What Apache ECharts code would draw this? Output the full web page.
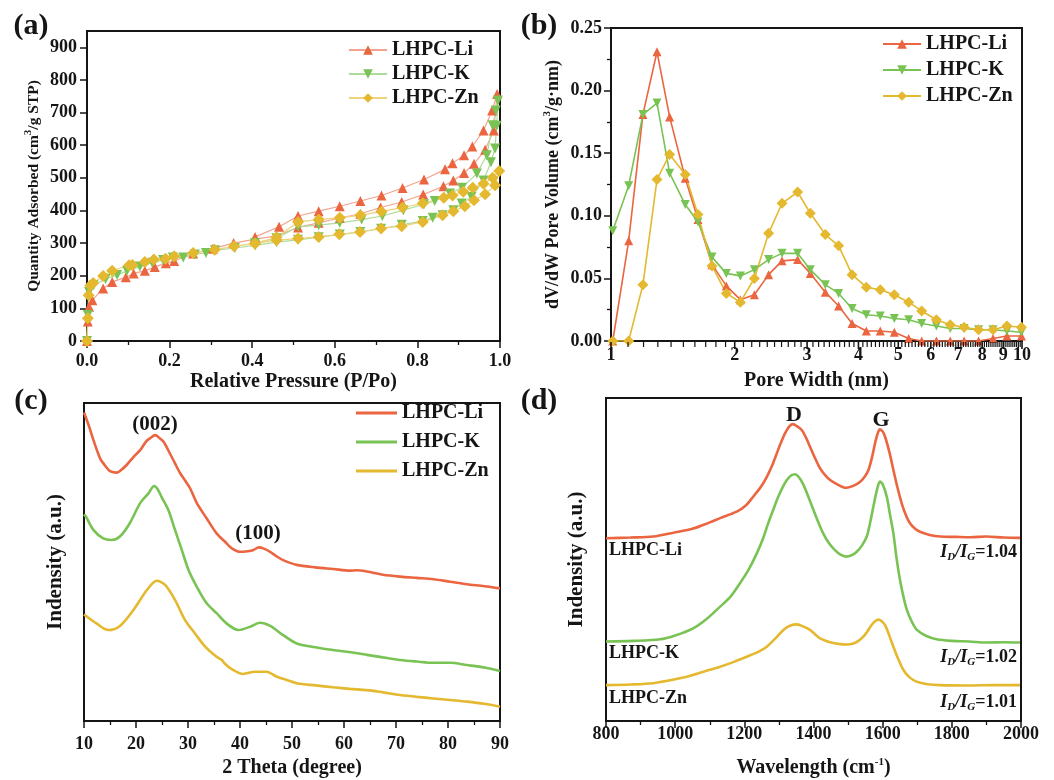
<!DOCTYPE html>
<html>
<head>
<meta charset="utf-8">
<script src="https://cdn.jsdelivr.net/npm/echarts@6/dist/echarts.min.js"></script>
<style>html,body{margin:0;padding:0;background:#fff;}</style>
</head>
<body>
<div id="main" style="width:1054px;height:780px;"></div>
<script type="text/javascript">
// ---- (a) N2 isotherms: adsorption branch then desorption branch
var liAdsP = [0.000, 0.002, 0.005, 0.013, 0.039, 0.061, 0.094, 0.113, 0.140, 0.164, 0.191, 0.211, 0.257, 0.305, 0.355, 0.407, 0.459, 0.511, 0.561, 0.612, 0.662, 0.711, 0.762, 0.814, 0.863, 0.887, 0.913, 0.937, 0.964, 0.985, 0.993];
var liAdsQ = [0, 60, 105, 125, 161, 181, 195, 207, 215, 227, 238, 245, 268, 283, 300, 312, 322, 348, 362, 377, 390, 409, 426, 449, 474, 492, 515, 543, 586, 645, 757];
var liDesP = [0.981, 0.960, 0.933, 0.913, 0.885, 0.867, 0.816, 0.764, 0.713, 0.662, 0.612, 0.561, 0.511, 0.465, 0.407];
var liDesQ = [706, 645, 596, 569, 545, 526, 495, 469, 446, 429, 413, 398, 383, 350, 319];

var kAdsP = [0.000, 0.002, 0.005, 0.016, 0.045, 0.073, 0.097, 0.128, 0.158, 0.184, 0.208, 0.233, 0.261, 0.288, 0.310, 0.358, 0.407, 0.459, 0.511, 0.561, 0.612, 0.662, 0.712, 0.762, 0.813, 0.837, 0.861, 0.887, 0.907, 0.931, 0.960, 0.978, 0.988, 0.992, 0.995];
var kAdsQ = [0, 80, 150, 171, 190, 202, 215, 228, 240, 248, 256, 256, 265, 270, 278, 285, 293, 303, 310, 318, 326, 334, 344, 356, 368, 378, 385, 401, 421, 441, 492, 548, 590, 660, 737];
var kDesP = [0.990, 0.982, 0.968, 0.944, 0.908, 0.879, 0.842, 0.816, 0.766, 0.715, 0.665, 0.612, 0.561, 0.511, 0.459, 0.407];
var kDesQ = [706, 661, 569, 513, 470, 452, 429, 419, 401, 383, 372, 362, 355, 350, 315, 300];

var znAdsP = [0.000, 0.002, 0.004, 0.008, 0.015, 0.039, 0.061, 0.102, 0.110, 0.140, 0.162, 0.190, 0.211, 0.257, 0.309, 0.356, 0.407, 0.459, 0.511, 0.561, 0.611, 0.661, 0.712, 0.762, 0.813, 0.861, 0.887, 0.915, 0.937, 0.964, 0.988, 0.998];
var znAdsQ = [0, 70, 140, 170, 178, 199, 215, 232, 233, 242, 250, 252, 260, 270, 280, 290, 299, 309, 314, 319, 327, 334, 345, 352, 365, 385, 398, 413, 431, 450, 477, 521];
var znDesP = [0.982, 0.960, 0.934, 0.911, 0.885, 0.864, 0.813, 0.764, 0.713, 0.662, 0.612, 0.561, 0.511, 0.459, 0.407];
var znDesQ = [500, 482, 470, 457, 446, 439, 422, 409, 397, 385, 378, 372, 365, 318, 299];

var qTicks = [0, 100, 200, 300, 400, 500, 600, 700, 800, 900];

// ---- (b) pore size distribution
var poreW = [1.01, 1.104, 1.196, 1.294, 1.389, 1.516, 1.628, 1.761, 1.908, 2.064, 2.233, 2.418, 2.607, 2.845, 3.055, 3.322, 3.58, 3.86, 4.18, 4.52, 4.89, 5.30, 5.70, 6.19, 6.69, 7.23, 7.84, 8.50, 9.19, 9.97];
var liPV = [0.0, 0.080, 0.181, 0.231, 0.179, 0.130, 0.097, 0.061, 0.044, 0.033, 0.037, 0.053, 0.064, 0.065, 0.054, 0.039, 0.028, 0.014, 0.008, 0.008, 0.007, 0.002, 0.0, 0.0, 0.0, 0.0, 0.0, 0.002, 0.004, 0.004];
var kPV = [0.088, 0.124, 0.181, 0.190, 0.134, 0.109, 0.095, 0.067, 0.054, 0.052, 0.057, 0.065, 0.070, 0.070, 0.057, 0.045, 0.038, 0.026, 0.021, 0.020, 0.018, 0.017, 0.014, 0.012, 0.010, 0.010, 0.009, 0.009, 0.008, 0.007];
var znPV = [0.0, 0.0, 0.045, 0.129, 0.149, 0.133, 0.101, 0.060, 0.038, 0.031, 0.050, 0.086, 0.110, 0.119, 0.102, 0.085, 0.076, 0.053, 0.043, 0.041, 0.037, 0.031, 0.024, 0.017, 0.013, 0.011, 0.009, 0.009, 0.012, 0.011];
var poreLabels = [1, 2, 3, 4, 5, 6, 7, 8, 9, 10];

// ---- (c) XRD
var liTheta = [10.0, 11.0, 11.8, 13.1, 14.2, 15.0, 16.3, 17.2, 18.2, 19.5, 20.8, 22.0, 22.7, 23.7, 24.5, 25.3, 26.5, 27.5, 28.5, 29.5, 30.4, 31.7, 33.6, 35.5, 37.4, 38.5, 40.0, 41.5, 42.6, 43.6, 44.6, 45.8, 47.0, 48.3, 50.9, 54.5, 57.9, 61.2, 62.5, 64.4, 67.5, 70.8, 74.0, 77.2, 80.4, 83.6, 87.0, 90.0];
var liXrd = [97, 92.5, 88.4, 82.6, 80, 78.6, 78.1, 79, 80.5, 83, 85.2, 88, 88.9, 89.9, 89, 87.8, 84.2, 81, 77.9, 75.5, 73.2, 68.5, 63.7, 59.0, 55.9, 54.2, 53.2, 53.4, 53.8, 54.6, 54.2, 53.2, 51.8, 50.6, 49.1, 48.3, 47.8, 47.3, 47.4, 47.0, 46.0, 45.4, 45.0, 44.6, 43.8, 43.0, 42.4, 41.7];
var kTheta = [10.0, 10.4, 11.8, 13.7, 15.3, 16.9, 18.8, 20.8, 22.4, 23.5, 24.2, 24.9, 26.2, 27.5, 28.8, 30.1, 31.7, 33.6, 35.5, 37.4, 39.7, 41.9, 43.8, 45.8, 48.3, 50.9, 54.5, 57.9, 61.2, 64.4, 67.5, 70.8, 74.0, 77.2, 80.4, 83.6, 87.0, 90.0];
var kXrd = [65, 64.2, 60.1, 57.4, 56.9, 58.0, 62.2, 68.5, 71.6, 73.9, 72.8, 70.5, 66.4, 60.1, 53.8, 47.5, 42.2, 37.0, 33.9, 30.7, 28.6, 29.6, 30.9, 29.9, 27.0, 24.4, 23.2, 22.3, 21.6, 20.8, 20.0, 19.2, 18.7, 18.3, 18.3, 17.6, 16.8, 15.7];
var znTheta = [10.0, 12.4, 14.7, 16.9, 19.5, 22.1, 24.0, 25.6, 27.5, 29.4, 31.3, 33.3, 35.5, 36.5, 37.1, 38.4, 40.6, 42.9, 45.1, 47.1, 49.0, 50.9, 54.5, 57.9, 61.2, 64.4, 67.5, 70.8, 74.0, 77.2, 80.4, 83.6, 87.0, 90.0];
var znXrd = [33.5, 30.7, 28.6, 29.9, 34.9, 41.2, 44.1, 42.8, 38.1, 31.8, 27.6, 23.4, 20.2, 19.2, 18.0, 16.3, 14.8, 15.5, 15.5, 13.9, 12.9, 11.9, 11.2, 10.6, 10.1, 9.7, 9.0, 8.2, 7.6, 7.1, 6.6, 6.1, 5.4, 4.5];

// ---- (d) Raman
var liWave = [800, 870, 937, 995, 1052, 1100, 1130, 1178, 1205, 1226, 1248, 1265, 1280, 1294, 1306, 1318, 1330, 1340, 1352, 1366, 1378, 1390, 1404, 1419, 1433, 1448, 1470, 1494, 1515, 1535, 1549, 1559, 1570, 1578, 1585, 1592, 1600, 1607, 1620, 1631, 1643, 1655, 1667, 1679, 1693, 1708, 1736, 1766, 1810, 1853, 1900, 1950, 1997];
var liRaman = [56.6, 56.8, 57.1, 58.3, 59.6, 61.5, 62.8, 64.8, 66.8, 69.5, 72.5, 75.6, 79, 82.9, 86.2, 89.1, 91.2, 91.9, 91.3, 90.1, 87.8, 84.9, 81.5, 78.2, 76.2, 74.6, 73.2, 72.2, 72.8, 74.1, 75.8, 77.7, 82, 86.0, 88.8, 90.3, 89.6, 88.0, 83, 77.7, 72.2, 67.4, 63.8, 61.2, 59.6, 58.6, 57.6, 57.1, 57.0, 56.9, 57.1, 56.8, 56.7];
var kWave = [800, 880, 956, 1000, 1052, 1090, 1130, 1160, 1187, 1212, 1236, 1253, 1269, 1284, 1298, 1311, 1323, 1335, 1347, 1359, 1371, 1386, 1400, 1414, 1428, 1445, 1462, 1478, 1494, 1510, 1525, 1540, 1554, 1563, 1573, 1583, 1592, 1600, 1612, 1621, 1631, 1640, 1650, 1660, 1670, 1684, 1699, 1725, 1756, 1800, 1850, 1901, 1950, 1997];
var kRaman = [24.6, 24.8, 25.3, 26.5, 28.7, 31.5, 35.4, 38.5, 42.6, 46.8, 51.9, 56.2, 61.2, 65.5, 69.4, 72.4, 74.6, 76.0, 76.4, 75.3, 73.1, 69.2, 65.3, 61.5, 58.1, 55.0, 52.9, 51.5, 50.9, 51.3, 52.4, 54.3, 57.1, 61, 66.3, 71.3, 74.1, 73.3, 69.4, 64, 58.1, 50.5, 43.7, 38.5, 34.4, 30.8, 28.2, 26.4, 25.3, 24.8, 24.6, 24.3, 24.4, 24.3];
var znWave = [800, 870, 937, 985, 1033, 1080, 1130, 1170, 1207, 1240, 1265, 1290, 1313, 1332, 1352, 1370, 1390, 1405, 1419, 1448, 1477, 1497, 1515, 1530, 1544, 1556, 1568, 1578, 1588, 1597, 1607, 1619, 1631, 1645, 1660, 1678, 1698, 1730, 1766, 1850, 1920, 1997];
var znRaman = [11.1, 11.3, 11.7, 12.6, 13.7, 15.2, 16.8, 18.3, 19.9, 21.4, 23.0, 25.6, 28.2, 29.5, 29.9, 29.3, 28.2, 26.8, 25.6, 24.4, 23.8, 23.7, 24.0, 24.8, 26.1, 27.8, 29.7, 30.9, 31.4, 30.9, 29.7, 26.5, 23.0, 19.2, 15.8, 13.5, 12.2, 11.4, 11.1, 11.0, 11.1, 11.1];

var INK = '#151515';
var SERIF = 'Liberation Serif';
var RED = '#EA6540', GREEN = '#79C355', YELLOW = '#E4B82F';
var RED_PALE = '#F3A48F', GREEN_PALE = '#AEDC98', YELLOW_PALE = '#EFD27C';

function pairs(xs, ys) {
    return xs.map(function (x, i) { return [x, ys[i]]; });
}

function axis(o) {
    var base = {
        axisLine: {show: true, onZero: false, lineStyle: {color: INK, width: 2}},
        axisTick: {show: true, inside: false, length: 7, lineStyle: {color: INK, width: 1.5}},
        minorTick: {show: false, length: 4, lineStyle: {color: INK, width: 1.3}},
        axisLabel: {color: INK, fontFamily: SERIF, fontWeight: 'bold', fontSize: 18,
            formatter: function (v) { return String(v); }},
        splitLine: {show: false},
        minorSplitLine: {show: false},
        nameLocation: 'middle',
        nameTextStyle: {color: INK, fontFamily: SERIF, fontWeight: 'bold', fontSize: 20, lineHeight: 22,
            rich: {sup: {fontFamily: SERIF, fontWeight: 'bold', fontSize: 11, lineHeight: 11, verticalAlign: 'top', color: INK}}}
    };
    return echarts.util.merge(base, o, true);
}

var gridStyle = {show: true, borderColor: INK, borderWidth: 2, backgroundColor: 'transparent'};

function legendFor(names, left, top, w, gap, h) {
    return {
        data: names, orient: 'vertical', left: left, top: top, padding: 0,
        itemWidth: w, itemHeight: h || 12, itemGap: gap, selectedMode: false,
        formatter: function (n) { return n.slice(2); },
        textStyle: {color: INK, fontFamily: SERIF, fontWeight: 'bold', fontSize: 20, lineHeight: 19}
    };
}

var myChart = echarts.init(document.getElementById('main'));

var xrdLegend = legendFor([
    {name: 'c:LHPC-Li', icon: 'rect'},
    {name: 'c:LHPC-K', icon: 'rect'},
    {name: 'c:LHPC-Zn', icon: 'rect'}
], 356, 403, 41, 9, 3);

var option = {
    animation: false,
    grid: [
        echarts.util.extend({left: 87, top: 31, width: 413, height: 310}, gridStyle),
        echarts.util.extend({left: 611, top: 28, width: 411, height: 313}, gridStyle),
        echarts.util.extend({left: 84, top: 403, width: 416, height: 318}, gridStyle),
        echarts.util.extend({left: 606, top: 398, width: 415, height: 323}, gridStyle)
    ],
    xAxis: [
        axis({gridIndex: 0, type: 'value', min: 0, max: 1, interval: 0.2,
            minorTick: {show: true, splitNumber: 2},
            axisLabel: {margin: 11, formatter: function (v) { return v.toFixed(1); }},
            name: 'Relative Pressure (P/Po)', nameGap: 30}),
        axis({gridIndex: 1, type: 'log', logBase: 10, min: 1, max: 10,
            axisTick: {show: false}, axisLabel: {show: false},
            name: 'Pore Width (nm)', nameGap: 29}),
        axis({gridIndex: 2, type: 'value', min: 10, max: 90, interval: 10,
            minorTick: {show: true, splitNumber: 2},
            axisLabel: {margin: 14},
            name: '2 Theta (degree)', nameGap: 36}),
        axis({gridIndex: 3, type: 'value', min: 800, max: 2000, interval: 200,
            minorTick: {show: true, splitNumber: 2},
            axisLabel: {margin: 4},
            name: 'Wavelength (cm{sup|-1})', nameGap: 36})
    ],
    yAxis: [
        axis({gridIndex: 0, type: 'value', min: 0, max: 950, interval: 100,
            axisTick: {customValues: qTicks},
            axisLabel: {margin: 10, customValues: qTicks},
            name: 'Quantity Adsorbed (cm{sup|3}/g STP)', nameGap: 42,
            nameTextStyle: {fontSize: 15.5}}),
        axis({gridIndex: 1, type: 'value', min: 0, max: 0.25, interval: 0.05,
            minorTick: {show: true, splitNumber: 2},
            axisLabel: {margin: 9, formatter: function (v) { return v.toFixed(2); }},
            name: 'dV/dW Pore Volume (cm{sup|3}/g\u00b7nm)', nameGap: 47,
            nameTextStyle: {fontSize: 18}}),
        axis({gridIndex: 2, type: 'value', min: 0, max: 100,
            axisTick: {show: false}, axisLabel: {show: false},
            name: 'Indensity (a.u.)', nameGap: 17, nameTextStyle: {fontSize: 21}}),
        axis({gridIndex: 3, type: 'value', min: 0, max: 100,
            axisTick: {show: false}, axisLabel: {show: false},
            name: 'Indensity (a.u.)', nameGap: 18, nameTextStyle: {fontSize: 21}})
    ],
    legend: [
        legendFor(['a:LHPC-Li', 'a:LHPC-K', 'a:LHPC-Zn'], 348, 40, 38, 4),
        legendFor(['b:LHPC-Li', 'b:LHPC-K', 'b:LHPC-Zn'], 882, 34, 38, 6),
        xrdLegend
    ],
    series: [
        // (a)
        {name: 'a:LHPC-Li', type: 'line', xAxisIndex: 0, yAxisIndex: 0,
            data: pairs(liAdsP.concat(liDesP), liAdsQ.concat(liDesQ)),
            symbol: 'triangle', symbolSize: 10, lineStyle: {color: RED_PALE, width: 1.2}, itemStyle: {color: RED}},
        {name: 'a:LHPC-K', type: 'line', xAxisIndex: 0, yAxisIndex: 0,
            data: pairs(kAdsP.concat(kDesP), kAdsQ.concat(kDesQ)),
            symbol: 'triangle', symbolRotate: 180, symbolSize: 10, lineStyle: {color: GREEN_PALE, width: 1.2}, itemStyle: {color: GREEN}},
        {name: 'a:LHPC-Zn', type: 'line', xAxisIndex: 0, yAxisIndex: 0,
            data: pairs(znAdsP.concat(znDesP), znAdsQ.concat(znDesQ)),
            symbol: 'diamond', symbolSize: 12, lineStyle: {color: YELLOW_PALE, width: 1.2}, itemStyle: {color: YELLOW}},
        // (b)
        {name: 'b:LHPC-Li', type: 'line', xAxisIndex: 1, yAxisIndex: 1, data: pairs(poreW, liPV),
            symbol: 'triangle', symbolSize: 9, lineStyle: {color: RED, width: 1.6}, itemStyle: {color: RED}},
        {name: 'b:LHPC-K', type: 'line', xAxisIndex: 1, yAxisIndex: 1, data: pairs(poreW, kPV),
            symbol: 'triangle', symbolRotate: 180, symbolSize: 9, lineStyle: {color: GREEN, width: 1.6}, itemStyle: {color: GREEN}},
        {name: 'b:LHPC-Zn', type: 'line', xAxisIndex: 1, yAxisIndex: 1, data: pairs(poreW, znPV),
            symbol: 'diamond', symbolSize: 11, lineStyle: {color: YELLOW, width: 1.6}, itemStyle: {color: YELLOW}},
        // (c)
        {name: 'c:LHPC-Li', type: 'line', xAxisIndex: 2, yAxisIndex: 2, data: pairs(liTheta, liXrd),
            symbol: 'none', smooth: 0.3, lineStyle: {color: RED, width: 2.6}, itemStyle: {color: RED}},
        {name: 'c:LHPC-K', type: 'line', xAxisIndex: 2, yAxisIndex: 2, data: pairs(kTheta, kXrd),
            symbol: 'none', smooth: 0.3, lineStyle: {color: GREEN, width: 2.6}, itemStyle: {color: GREEN}},
        {name: 'c:LHPC-Zn', type: 'line', xAxisIndex: 2, yAxisIndex: 2, data: pairs(znTheta, znXrd),
            symbol: 'none', smooth: 0.3, lineStyle: {color: YELLOW, width: 2.6}, itemStyle: {color: YELLOW}},
        // (d)
        {name: 'd:LHPC-Li', type: 'line', xAxisIndex: 3, yAxisIndex: 3, data: pairs(liWave, liRaman),
            symbol: 'none', smooth: 0.3, lineStyle: {color: RED, width: 2.6}},
        {name: 'd:LHPC-K', type: 'line', xAxisIndex: 3, yAxisIndex: 3, data: pairs(kWave, kRaman),
            symbol: 'none', smooth: 0.3, lineStyle: {color: GREEN, width: 2.6}},
        {name: 'd:LHPC-Zn', type: 'line', xAxisIndex: 3, yAxisIndex: 3, data: pairs(znWave, znRaman),
            symbol: 'none', smooth: 0.3, lineStyle: {color: YELLOW, width: 2.6}}
    ]
};
myChart.setOption(option);

// text helpers
function txt(t, x, y, size, align, extra) {
    var st = {text: t, fill: INK, fontFamily: SERIF, fontWeight: 'bold', fontSize: size,
        align: align || 'center', verticalAlign: 'middle'};
    if (extra) echarts.util.extend(st, extra);
    return {type: 'text', x: x, y: y, z: 100, style: st};
}
var ratioRich = {
    i: {fontFamily: SERIF, fontWeight: 'bold', fontStyle: 'italic', fontSize: 18, lineHeight: 22, fill: INK},
    s: {fontFamily: SERIF, fontWeight: 'bold', fontStyle: 'italic', fontSize: 11, lineHeight: 11, verticalAlign: 'bottom', fill: INK},
    n: {fontFamily: SERIF, fontWeight: 'bold', fontSize: 18, lineHeight: 22, fill: INK}
};
function ratio(v, x, y) {
    return txt('{i|I}{s|D}{i|/I}{s|G}{n|=' + v + '}', x, y, 18, 'right', {rich: ratioRich});
}

var graphics = [
    txt('(a)', 31, 26, 30), txt('(b)', 539, 26, 30),
    txt('(c)', 31, 401, 30), txt('(d)', 539, 401, 30),
    txt('(002)', 155, 425, 21), txt('(100)', 258, 534, 21),
    txt('D', 794, 415, 22), txt('G', 881, 420, 22),
    txt('LHPC-Li', 609, 550, 18, 'left'),
    txt('LHPC-K', 609, 653, 18, 'left'),
    txt('LHPC-Zn', 609, 698, 18, 'left'),
    ratio('1.04', 1017, 552), ratio('1.02', 1017, 657), ratio('1.01', 1017, 702)
];

// (b) log-axis ticks (every 0.1) and labels at integers, placed by the axis scale
var bBase = myChart.convertToPixel({gridIndex: 1}, [1, 0])[1];
for (var k = 10; k <= 100; k++) {
    var v = k / 10;
    var px = myChart.convertToPixel({xAxisIndex: 1}, v);
    var major = (k % 10 === 0);
    graphics.push({type: 'line', z: 100,
        shape: {x1: px, y1: bBase + 1, x2: px, y2: bBase + (major ? 8 : 6)},
        style: {stroke: INK, lineWidth: major ? 1.6 : 1.2}});
}
poreLabels.forEach(function (v) {
    var px = myChart.convertToPixel({xAxisIndex: 1}, v);
    graphics.push(txt(String(v), px, bBase + 14, 18));
});

myChart.setOption({graphic: graphics});
</script>
</body>
</html>
